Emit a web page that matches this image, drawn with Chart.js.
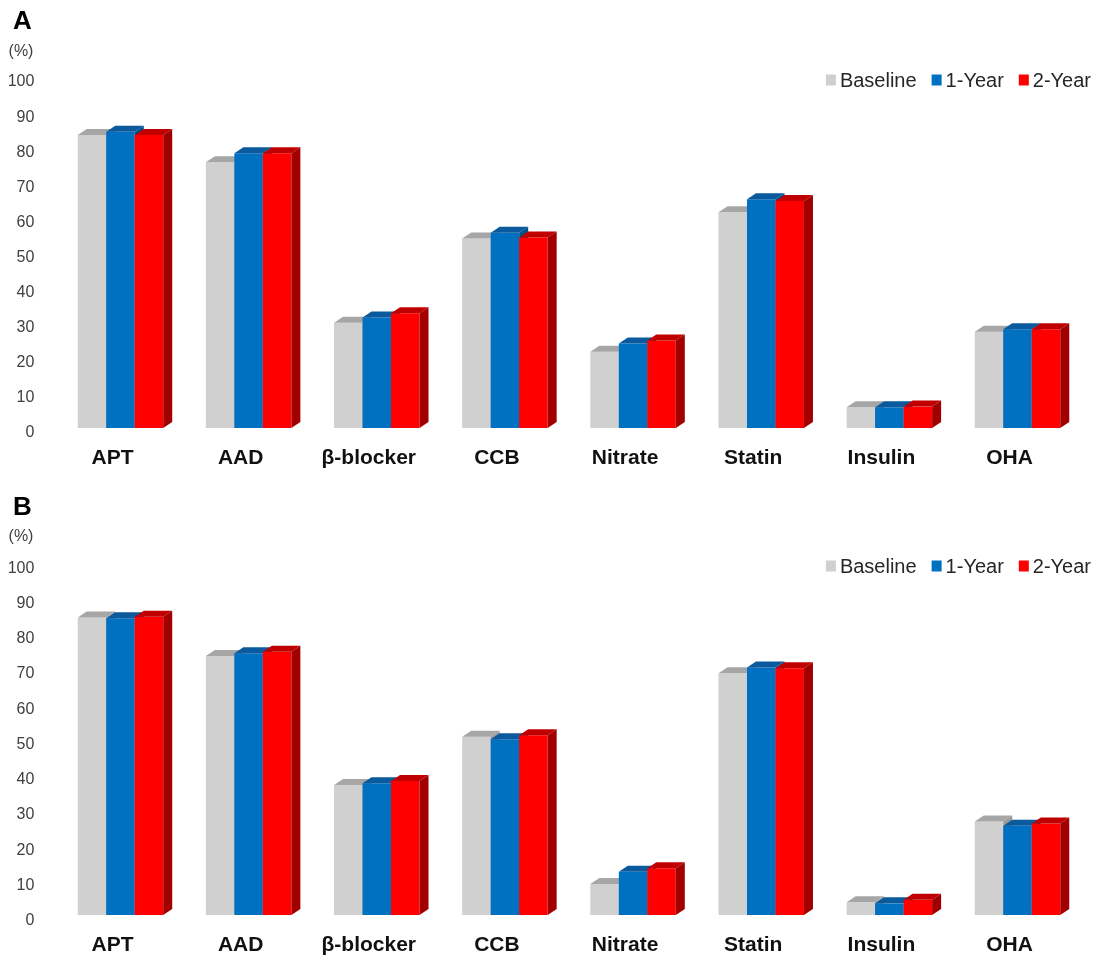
<!DOCTYPE html>
<html lang="en">
<head>
<meta charset="UTF-8">
<title>Medication use: Baseline, 1-Year, 2-Year</title>
<script src="https://cdn.jsdelivr.net/npm/chart.js@4"></script>
<style>
  body { margin: 0; background: #fff; }
  .panel { position: absolute; left: 0; width: 1096px; }
  #panelA { top: 0; height: 480px; }
  #panelB { top: 486px; height: 476px; }
</style>
</head>
<body>
<div class="panel" id="panelA"><canvas id="chartA"></canvas></div>
<div class="panel" id="panelB"><canvas id="chartB"></canvas></div>

<script>
// data (%)
const categories = ['APT', 'AAD', 'β-blocker', 'CCB', 'Nitrate', 'Statin', 'Insulin', 'OHA'];
const seriesNames = ['Baseline', '1-Year', '2-Year'];

const baselineA = [83.5, 75.7, 30.0, 54.0, 21.7, 61.5, 5.9, 27.4];
const year1A    = [84.4, 78.3, 31.5, 55.6, 24.1, 65.2, 5.9, 28.1];
const year2A    = [83.5, 78.3, 32.7, 54.3, 24.9, 64.7, 6.1, 28.1];

const baselineB = [84.4, 73.5, 36.9, 50.6, 8.8, 68.6, 3.6, 26.5];
const year1B    = [84.2, 74.3, 37.4, 49.9, 12.3, 70.2, 3.3, 25.3];
const year2B    = [84.6, 74.7, 38.0, 51.0, 13.3, 70.0, 4.3, 26.0];

const FONT = "'Liberation Sans', Arial, sans-serif";
Chart.defaults.font.family = FONT;

const frontColors = ['#d0d0d0', '#0070c0', '#ff0000'];
const topColors   = ['#a6a6a6', '#0b5a9e', '#c00000'];
const sideColors  = ['#9a9a9a', '#00508a', '#a20000'];
const depthX = 9, depthY = 6;

// fake 3d: front face from the library, then top and side faces, category by category
const bars3d = {
    id: 'bars3d',
    beforeDatasetsDraw(chart) {
        const ctx = chart.ctx;
        const metas = chart.data.datasets.map((ds, i) => chart.getDatasetMeta(i));
        for (let i = 0; i < chart.data.labels.length; i++) {
            metas.forEach((meta, d) => {
                const bar = meta.data[i];
                const {x, y, base, width} = bar.getProps(['x', 'y', 'base', 'width'], true);
                const l = x - width / 2, r = x + width / 2;
                bar.draw(ctx);
                ctx.fillStyle = topColors[d];
                ctx.beginPath();
                ctx.moveTo(l, y);
                ctx.lineTo(r, y);
                ctx.lineTo(r + depthX, y - depthY);
                ctx.lineTo(l + depthX, y - depthY);
                ctx.closePath();
                ctx.fill();
                ctx.fillStyle = sideColors[d];
                ctx.beginPath();
                ctx.moveTo(r, y);
                ctx.lineTo(r + depthX, y - depthY);
                ctx.lineTo(r + depthX, base - depthY);
                ctx.lineTo(r, base);
                ctx.closePath();
                ctx.fill();
            });
        }
        return false;
    }
};

// panel letter, unit and the legend in the top right
const panelText = {
    id: 'panelText',
    afterDraw(chart, args, opts) {
        const ctx = chart.ctx;
        ctx.save();
        ctx.fillStyle = '#000';
        ctx.font = 'bold 26px ' + FONT;
        ctx.textAlign = 'left';
        ctx.textBaseline = 'alphabetic';
        ctx.fillText(opts.letter, 13, 29);

        ctx.font = '16px ' + FONT;
        ctx.fillStyle = '#404040';
        ctx.textAlign = 'center';
        ctx.textBaseline = 'middle';
        ctx.fillText('(%)', 21, opts.unitY);

        ctx.font = '20px ' + FONT;
        ctx.textAlign = 'left';
        const items = chart.data.datasets.map(ds => ({
            text: ds.label, color: ds.backgroundColor, w: ctx.measureText(ds.label).width
        }));
        const box = 10, gapIn = 4, gapOut = 15;
        const total = items.reduce((s, it) => s + box + gapIn + it.w, 0) + gapOut * (items.length - 1);
        let cx = opts.legendRight - total;
        items.forEach(it => {
            ctx.fillStyle = it.color;
            ctx.fillRect(cx, opts.legendY - 5.5, box, 11);
            cx += box + gapIn;
            ctx.fillStyle = '#262626';
            ctx.fillText(it.text, cx, opts.legendY + 1);
            cx += it.w + gapOut;
        });
        ctx.restore();
    }
};

function makeChart(id, values, p) {
    return new Chart(document.getElementById(id), {
        type: 'bar',
        data: {
            labels: categories,
            datasets: values.map((v, i) => ({
                label: seriesNames[i],
                data: v,
                backgroundColor: frontColors[i],
                borderWidth: 0,
                categoryPercentage: 0.667,
                barPercentage: 1.0
            }))
        },
        options: {
            responsive: true,
            maintainAspectRatio: false,
            animation: false,
            events: [],
            layout: { padding: { top: p.top, right: 14.4, left: 0, bottom: 0 } },
            plugins: {
                legend: { display: false },
                tooltip: { enabled: false },
                panelText: { letter: p.letter, unitY: p.unitY, legendRight: 1091, legendY: 80 }
            },
            scales: {
                x: {
                    grid: { display: false, drawTicks: false },
                    border: { display: false },
                    ticks: {
                        padding: 18, labelOffset: -8, color: '#111',
                        font: { size: 21, weight: 'bold' },
                        maxRotation: 0, autoSkip: false
                    },
                    afterFit(s) { s.height = p.axisH; }
                },
                y: {
                    min: 0, max: 100,
                    grid: { display: false, drawTicks: false },
                    border: { display: false },
                    ticks: {
                        stepSize: 10, padding: 22, labelOffset: p.labelOffset,
                        color: '#404040', font: { size: 16 }
                    },
                    afterFit(s) { s.width = 56.4; }
                }
            }
        },
        plugins: [bars3d, panelText]
    });
}

makeChart('chartA', [baselineA, year1A, year2A],
    { letter: 'A', unitY: 52, top: 77, axisH: 52, labelOffset: 5 });
makeChart('chartB', [baselineB, year1B, year2B],
    { letter: 'B', unitY: 51, top: 76.6, axisH: 47, labelOffset: 5.7 });
</script>
</body>
</html>
